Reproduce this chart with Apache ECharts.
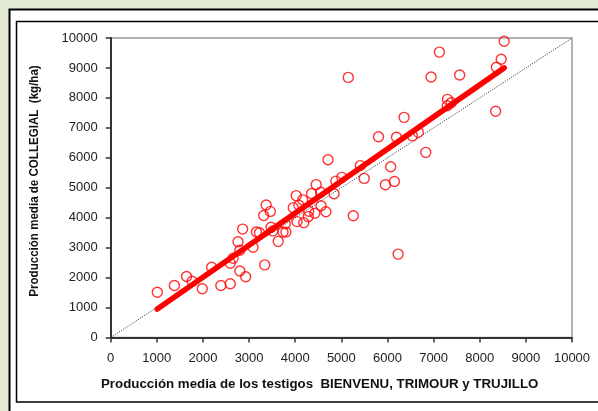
<!DOCTYPE html>
<html><head><meta charset="utf-8">
<script src="https://cdn.jsdelivr.net/npm/echarts@6/dist/echarts.min.js"></script>
<style>html,body{margin:0;padding:0;background:#e3ebd5;}#c{width:598px;height:411px;}</style>
</head><body><div id="c"></div>
<script>
// Data
var testigosX = [1010,1380,1645,1765,1985,2188,2388,2592,2592,2655,2800,2925,2760,2800,2860,3085,3158,3225,3315,3370,3460,3340,3475,3515,3632,3735,3798,3785,3958,4022,4040,4080,4162,4185,4282,4292,4355,4455,4425,4560,4550,4665,4711,4842,4880,5010,5150,5258,5411,5495,5805,5955,6070,6150,6195,6231,6360,6540,6668,6830,6945,7125,7300,7295,7380,7565,8345,8360,8465,8530];
var collegialY = [1510,1735,2035,1880,1630,2345,1735,1795,2480,2645,2220,2030,3195,2915,3620,3015,3525,3495,4075,4425,4210,2425,3680,3560,3210,3520,3520,3800,4335,4738,3870,4415,4595,3834,4036,4214,4808,5105,4150,4400,4850,4200,5935,4800,5220,5347,8685,4065,5740,5313,6705,5100,5700,5207,6684,2784,7350,6733,6850,6182,8700,9528,7952,7740,7840,8765,7552,9021,9288,9890];
var trendSlope = 1.071;
var trendIntercept = -133;
var diagonal = [[0,0],[10000,10000]];
var axisTicks = [0,1000,2000,3000,4000,5000,6000,7000,8000,9000,10000];
var xTitle = 'Producción media de los testigos  BIENVENU, TRIMOUR y TRUJILLO';
var yTitle = 'Producción media de COLLEGIAL  (kg/ha)';

var points = testigosX.map(function(x,i){return [x, collegialY[i]];});
var xmin = Math.min.apply(null, testigosX), xmax = Math.max.apply(null, testigosX);
var trend = [[xmin, trendSlope*xmin+trendIntercept],[xmax, trendSlope*xmax+trendIntercept]];

var font = 'Arial, "Liberation Sans", sans-serif';
var chart = echarts.init(document.getElementById('c'), null, {renderer:'canvas'});
var axisCommon = {
  type:'value', min:axisTicks[0], max:axisTicks[axisTicks.length-1], interval:1000,
  axisLine:{show:true, lineStyle:{color:'#333', width:2}},
  axisTick:{show:true, inside:false, length:5, lineStyle:{color:'#333', width:1.5}},
  splitLine:{show:false},
  axisLabel:{color:'#222', fontSize:13, fontFamily:font, formatter:function(v){return String(v);}}
};
chart.setOption({
  backgroundColor:'#e3ebd5',
  animation:false,
  graphic:{elements:[
    {type:'rect', z:-100, shape:{x:9.5,y:9.5,width:700,height:500}, style:{fill:'#fff', stroke:'#000', lineWidth:2}},
    {type:'rect', z:-99, shape:{x:16.5,y:21.5,width:700,height:380.5}, style:{fill:'#fff', stroke:'#000', lineWidth:1.5}},
    {type:'text', z:10, left:101, top:378, style:{text:xTitle, font:'bold 13.3px '+font, fill:'#111'}},
    {type:'text', z:10, x:34.5, y:181, rotation:Math.PI/2, scaleX:0.89, style:{text:yTitle, font:'bold 13px '+font, fill:'#111', align:'center', verticalAlign:'middle'}}
  ]},
  grid:{left:110.7, right:26, top:38, bottom:73.5, show:true, borderColor:'#9a9a9a', borderWidth:1.5, backgroundColor:'#fff'},
  xAxis:Object.assign({}, axisCommon, {axisLabel:Object.assign({}, axisCommon.axisLabel, {margin:14})}),
  yAxis:Object.assign({}, axisCommon, {axisLabel:Object.assign({}, axisCommon.axisLabel, {margin:13})}),
  series:[
    {type:'line', data:diagonal, symbol:'none', z:3, lineStyle:{color:'#222', width:1, type:[1,1.5]}},
    {type:'scatter', data:points, symbol:'circle', symbolSize:10, z:4,
      itemStyle:{color:'rgba(255,255,255,0)', borderColor:'#ff0000', borderWidth:1.4}},
    {type:'line', data:trend, symbol:'none', z:5, lineStyle:{color:'#ff0000', width:5.5, cap:'round'}}
  ]
});
</script></body></html>
